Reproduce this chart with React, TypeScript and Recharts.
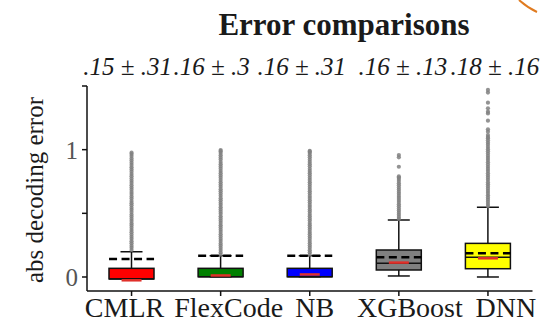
import React from 'react';
import { ComposedChart, Bar, XAxis, YAxis, Scatter, Customized, Cell } from 'recharts';

const categories = ['CMLR', 'FlexCode', 'NB', 'XGBoost', 'DNN'];
const annotations = ['.15 ± .31', '.16 ± .3', '.16 ± .31', '.16 ± .13', '.18 ± .16'];
const whiskerLow = [-0.015, 0.002, 0.002, 0.008, 0.0];
const q1 = [-0.015, 0.002, 0.002, 0.055, 0.065];
const median = [-0.015, 0.002, 0.002, 0.107, 0.155];
const q3 = [0.068, 0.068, 0.068, 0.212, 0.264];
const whiskerHigh = [0.199, 0.167, 0.167, 0.447, 0.547];
const means = [0.141, 0.167, 0.167, 0.155, 0.186];
const redMarks = [-0.026, 0.012, 0.02, 0.113, 0.147];
const yTicks = [0, 0.5, 1, 1.5];
const yTickLabels = ['0', '', '1', ''];

const outliersCMLR = [0.212, 0.23, 0.246, 0.265, 0.281, 0.3, 0.316, 0.333, 0.352, 0.369, 0.386, 0.405, 0.421, 0.44, 0.457, 0.475, 0.491, 0.51, 0.528, 0.544, 0.563, 0.58, 0.597, 0.616, 0.633, 0.651, 0.667, 0.686, 0.703, 0.72, 0.739, 0.756, 0.773, 0.792, 0.808, 0.827, 0.845, 0.861, 0.88, 0.897, 0.915, 0.931, 0.95, 0.965, 0.976];
const outliersFlexCode = [0.176, 0.193, 0.212, 0.229, 0.247, 0.264, 0.283, 0.3, 0.318, 0.335, 0.354, 0.371, 0.389, 0.406, 0.425, 0.442, 0.46, 0.477, 0.496, 0.513, 0.531, 0.548, 0.567, 0.584, 0.602, 0.619, 0.638, 0.655, 0.673, 0.69, 0.709, 0.726, 0.744, 0.761, 0.78, 0.797, 0.815, 0.832, 0.851, 0.868, 0.886, 0.903, 0.922, 0.939, 0.957, 0.974, 0.988, 0.997];
const outliersNB = [0.176, 0.194, 0.211, 0.23, 0.247, 0.265, 0.282, 0.301, 0.318, 0.336, 0.353, 0.372, 0.389, 0.407, 0.424, 0.443, 0.46, 0.478, 0.495, 0.514, 0.531, 0.549, 0.566, 0.585, 0.602, 0.62, 0.637, 0.656, 0.673, 0.691, 0.708, 0.727, 0.744, 0.762, 0.779, 0.798, 0.815, 0.833, 0.85, 0.869, 0.886, 0.904, 0.921, 0.94, 0.957, 0.973, 0.984, 0.99];
const outliersXGBoost = [0.456, 0.472, 0.489, 0.505, 0.522, 0.538, 0.555, 0.571, 0.588, 0.604, 0.621, 0.637, 0.654, 0.67, 0.687, 0.703, 0.72, 0.736, 0.753, 0.769, 0.781, 0.79, 0.866, 0.94, 0.958];
const outliersDNN = [0.556, 0.573, 0.59, 0.607, 0.625, 0.642, 0.659, 0.676, 0.694, 0.711, 0.728, 0.745, 0.763, 0.78, 0.797, 0.814, 0.832, 0.849, 0.866, 0.883, 0.901, 0.918, 0.935, 0.952, 0.97, 0.987, 1.004, 1.021, 1.039, 1.056, 1.073, 1.09, 1.1, 1.115, 1.141, 1.16, 1.228, 1.285, 1.298, 1.325, 1.369, 1.448, 1.469];

const boxColors = ['#ff0000', '#008000', '#0000ff', '#808080', '#ffff00'];
const xLabelShift = [-7, 8, 5, 11, 18];
const annShift = [-4, -9, -8, 4, 7];
const SERIF = '"Liberation Serif", "Times New Roman", serif';
const BOX_W = 45;

const rows = categories.map((name, i) => ({
  name,
  wLow: whiskerLow[i],
  wHigh: whiskerHigh[i],
  q1: q1[i],
  q3: q3[i],
}));
const toPts = (arr: number[]) => arr.map((v, i) => ({ idx: i, v }));
const meanPts = toPts(means);
const medianPts = toPts(median);
const redPts = toPts(redMarks);
const outlierPts = [outliersCMLR, outliersFlexCode, outliersNB, outliersXGBoost, outliersDNN].flatMap((arr, i) =>
  arr.map((v) => ({ idx: i, v }))
);

const WhiskerShape = (p: any) => {
  const { x, y, width, height } = p;
  const cx = x + width / 2;
  const cap = 11;
  return (
    <g>
      <line x1={cx} x2={cx} y1={y} y2={y + height} stroke="#111" strokeWidth={1.5} />
      <line x1={cx - cap} x2={cx + cap} y1={y} y2={y} stroke="#111" strokeWidth={1.5} />
      <line x1={cx - cap} x2={cx + cap} y1={y + height} y2={y + height} stroke="#111" strokeWidth={1.5} />
    </g>
  );
};

const BoxShape = (p: any) => {
  const { x, y, width, height, fill } = p;
  return <rect x={x} y={y} width={width} height={Math.max(height, 0.5)} fill={fill} stroke="#111" strokeWidth={1.5} />;
};

const MeanShape = (p: any) => (
  <line x1={p.cx - BOX_W / 2} x2={p.cx + BOX_W / 2} y1={p.cy} y2={p.cy} stroke="#000" strokeWidth={2.6} strokeDasharray="8 4.5" />
);
const MedianShape = (p: any) => (
  <line x1={p.cx - BOX_W / 2} x2={p.cx + BOX_W / 2} y1={p.cy} y2={p.cy} stroke="#111" strokeWidth={1.5} />
);
const RedShape = (p: any) => (
  <line x1={p.cx - 10} x2={p.cx + 10} y1={p.cy} y2={p.cy} stroke="#e0302a" strokeWidth={2.5} />
);
const DotShape = (p: any) => <circle cx={p.cx} cy={p.cy} r={2.1} fill="#808080" fillOpacity={0.85} />;

const XTick = (p: any) => {
  const { x, y, index, payload } = p;
  return (
    <text x={x + xLabelShift[index]} y={y} dy={19} textAnchor="middle" fontFamily={SERIF} fontSize={28} fill="#1a1a1a">
      {payload.value}
    </text>
  );
};

const AnnTick = (p: any) => {
  const { x, index } = p;
  return (
    <text x={x + annShift[index]} y={75} textAnchor="middle" fontFamily={SERIF} fontStyle="italic" fontSize={25} fill="#1a1a1a">
      {annotations[index]}
    </text>
  );
};

const Decor = () => (
  <g>
    <text x={344} y={35} textAnchor="middle" fontFamily={SERIF} fontWeight="bold" fontSize={31} fill="#1a1a1a">
      Error comparisons
    </text>
    <text
      x={43}
      y={190}
      transform="rotate(-90 43 190)"
      textAnchor="middle"
      fontFamily={SERIF}
      fontSize={25}
      fill="#1a1a1a"
    >
      abs decoding error
    </text>
    <path d="M 519 0 Q 528 8 537 12" stroke="#e07b20" strokeWidth={2} fill="none" />
  </g>
);

export default function App() {
  return (
    <div style={{ position: 'absolute', left: 0, top: 0, width: 543, height: 321, background: '#fff' }}>
      <ComposedChart width={543} height={321} data={rows} margin={{ top: 46, right: 10.5, bottom: 0, left: 0 }}>
        <XAxis
          xAxisId="cat"
          dataKey="name"
          type="category"
          height={30}
          tickSize={5}
          tickMargin={2}
          axisLine={{ stroke: '#111', strokeWidth: 1.5 }}
          tickLine={{ stroke: '#111', strokeWidth: 1.5 }}
          tick={<XTick />}
          interval={0}
        />
        <XAxis
          xAxisId="top"
          dataKey="name"
          type="category"
          orientation="top"
          height={40}
          axisLine={false}
          tickLine={false}
          tick={<AnnTick />}
          interval={0}
        />
        <XAxis xAxisId="num" dataKey="idx" type="number" domain={[-0.5, 4.5]} hide allowDataOverflow />
        <YAxis
          dataKey="v"
          type="number"
          domain={[-0.11, 1.5]}
          ticks={yTicks}
          allowDataOverflow
          width={87}
          tickSize={5}
          tickMargin={4}
          interval={0}
          tickFormatter={(v: number) => yTickLabels[yTicks.indexOf(v)] ?? ''}
          tick={{ fontSize: 25, fill: '#555', fontFamily: SERIF }}
          axisLine={{ stroke: '#111', strokeWidth: 1.5 }}
          tickLine={{ stroke: '#111', strokeWidth: 1.5 }}
        />
        <Scatter xAxisId="num" data={outlierPts} shape={<DotShape />} isAnimationActive={false} />
        <Bar xAxisId="top" dataKey={(d: any) => [d.wLow, d.wHigh]} barSize={BOX_W} shape={<WhiskerShape />} isAnimationActive={false} />
        <Bar xAxisId="cat" dataKey={(d: any) => [d.q1, d.q3]} barSize={BOX_W} shape={<BoxShape />} isAnimationActive={false}>
          {rows.map((r, i) => (
            <Cell key={r.name} fill={boxColors[i]} />
          ))}
        </Bar>
        <Scatter xAxisId="num" data={medianPts} shape={<MedianShape />} isAnimationActive={false} />
        <Scatter xAxisId="num" data={redPts} shape={<RedShape />} isAnimationActive={false} />
        <Scatter xAxisId="num" data={meanPts} shape={<MeanShape />} isAnimationActive={false} />
        <Customized component={<Decor />} />
      </ComposedChart>
    </div>
  );
}
